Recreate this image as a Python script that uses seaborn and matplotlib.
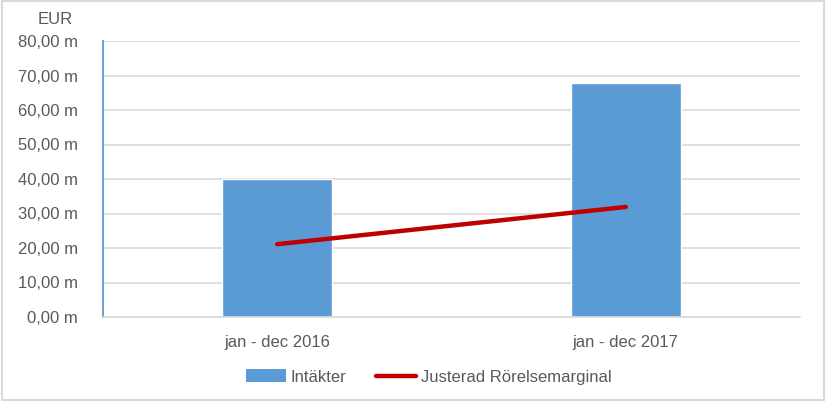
import matplotlib
matplotlib.use("Agg")
import matplotlib.pyplot as plt
import seaborn as sns
import pandas as pd
from matplotlib.patches import Rectangle
from matplotlib.lines import Line2D
from matplotlib.patches import Patch
from matplotlib.ticker import FuncFormatter, MultipleLocator

categories = ["jan - dec 2016", "jan - dec 2017"]
intakter = [40.0, 67.8]
marginal = [21.1, 31.9]
bar_label = "Intäkter"
line_label = "Justerad Rörelsemarginal"

sns.set_theme(style="white")
plt.rcParams["font.family"] = ["Liberation Sans", "DejaVu Sans"]

text_col = "#595959"
bar_col = "#5B9BD5"
line_col = "#C00000"
grid_col = "#D9D9D9"
fs = 12

fig = plt.figure(figsize=(8.26, 4.01), dpi=100)
ax = fig.add_axes([103/826, 1-317/401, (800-103)/826, (317-41)/401])

df = pd.DataFrame({"cat": categories, "val": intakter, "m": marginal})
sns.barplot(data=df, x="cat", y="val", color=bar_col, width=0.316, saturation=1, ax=ax, zorder=2)
sns.lineplot(data=df, x="cat", y="m", color=line_col, linewidth=3.2, ax=ax, zorder=3,
             solid_capstyle="round")

ax.set_xlim(-0.5, 1.5)
ax.set_ylim(0, 80)
ax.yaxis.set_major_locator(MultipleLocator(10))
ax.yaxis.set_major_formatter(FuncFormatter(lambda v, p: f"{v:.2f}".replace(".", ",") + " m"))
ax.grid(axis="y", color=grid_col, linewidth=1.2, zorder=0)
ax.set_axisbelow(True)
ax.set_xlabel("")
ax.set_ylabel("")
for s in ["top", "right"]:
    ax.spines[s].set_visible(False)
ax.spines["left"].set_color(bar_col)
ax.spines["left"].set_linewidth(1.3)
ax.spines["bottom"].set_color(grid_col)
ax.spines["bottom"].set_linewidth(1.2)
ax.tick_params(axis="y", length=0, pad=18, labelsize=fs, labelcolor=text_col)
ax.tick_params(axis="x", length=0, pad=13, labelsize=fs, labelcolor=text_col)

fig.text(38/826, 1-20/401, "EUR", color=text_col, fontsize=fs, va="center", ha="left")

handles = [Patch(facecolor=bar_col, edgecolor="none", label=bar_label),
           Line2D([0], [0], color=line_col, linewidth=3.2, solid_capstyle="round", label=line_label)]
fig.legend(handles=handles, loc="center", bbox_to_anchor=(0.519, 1-377/401), ncol=2, frameon=False,
           fontsize=fs, labelcolor=text_col, handlelength=2.4, handleheight=0.8,
           columnspacing=1.8, handletextpad=0.3)

fig.patches.append(Rectangle((0.002, 0.003), 0.996, 0.994, transform=fig.transFigure,
                             fill=False, edgecolor="#D9D9D9", linewidth=1.5))

fig.savefig("out.png", dpi=100)
